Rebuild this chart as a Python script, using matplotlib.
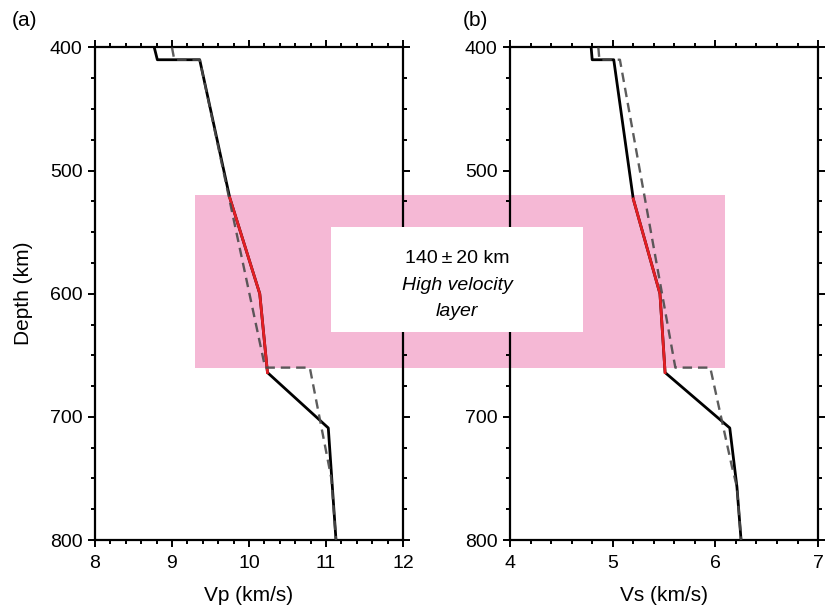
import matplotlib
matplotlib.use("Agg")
import matplotlib.pyplot as plt
from matplotlib.patches import Rectangle
from matplotlib.ticker import MultipleLocator, FuncFormatter

plt.rcParams["font.family"] = ["Liberation Sans", "DejaVu Sans"]
plt.rcParams["font.size"] = 14

# Vp profiles (km/s) against depth (km)
vp_model_depth = [400, 410, 410, 522, 600, 664, 709, 800]
vp_model = [8.77, 8.81, 9.36, 9.75, 10.14, 10.24, 11.03, 11.13]
vp_ref_depth = [400, 410, 410, 660, 660, 750, 800]
vp_ref = [9.0, 9.03, 9.36, 10.21, 10.79, 11.07, 11.13]

# Vs profiles (km/s) against depth (km)
vs_model_depth = [400, 410, 410, 523, 600, 664, 709, 757, 800]
vs_model = [4.79, 4.80, 5.01, 5.20, 5.46, 5.51, 6.14, 6.21, 6.25]
vs_ref_depth = [400, 410, 410, 660, 660, 740, 757, 800]
vs_ref = [4.86, 4.87, 5.07, 5.61, 5.95, 6.16, 6.21, 6.25]

# high velocity layer: indices of the red part of each model
layer_idx = slice(3, 6)
layer_top, layer_bot = 520, 660
box_lines = [("140\u2009\u00b1\u200920 km", "normal"),
             ("High velocity", "italic"),
             ("layer", "italic")]

fig = plt.figure(figsize=(8.28, 6.08), dpi=100)
ax1 = fig.add_axes([0.1147, 0.1118, 0.372, 0.8102])
ax2 = fig.add_axes([0.616, 0.1118, 0.372, 0.8102])


def style_axis(ax, xlim, xlabel):
    ax.set_facecolor("none")
    ax.set_xlim(*xlim)
    ax.set_ylim(800, 400)
    ax.xaxis.set_major_locator(MultipleLocator(1))
    ax.xaxis.set_minor_locator(MultipleLocator(0.2))
    ax.yaxis.set_major_locator(MultipleLocator(100))
    ax.yaxis.set_minor_locator(MultipleLocator(25))
    ax.tick_params(which="both", top=True, right=True, direction="out", width=1.4)
    ax.tick_params(which="major", length=5, pad=4)
    ax.tick_params(which="minor", length=3)
    ax.tick_params(axis="x", which="major", pad=6)
    for sp in ax.spines.values():
        sp.set_linewidth(1.6)
    ax.set_xlabel(xlabel, labelpad=10, fontsize=15)


style_axis(ax1, (8, 12), "Vp (km/s)")
style_axis(ax2, (4, 7), "Vs (km/s)")
ax1.set_ylabel("Depth (km)", labelpad=12, fontsize=15)
# the 600 label of panel (b) sits behind the white label box
ax2.yaxis.set_major_formatter(FuncFormatter(lambda v, p: "" if v == 600 else "%d" % v))

dash_kw = dict(color="#4a4a4a", lw=1.7, dashes=(4, 2.5), alpha=0.9)
for ax, md, mv, rd, rv in [(ax1, vp_model_depth, vp_model, vp_ref_depth, vp_ref),
                           (ax2, vs_model_depth, vs_model, vs_ref_depth, vs_ref)]:
    ax.plot(mv, md, color="black", lw=2.0, zorder=3)
    ax.plot(mv[layer_idx], md[layer_idx], color="#e31e24", lw=2.0, zorder=4)
    ax.plot(rv, rd, zorder=5, **dash_kw)

ax1.text(-0.27, 1.035, "(a)", transform=ax1.transAxes, fontsize=15, va="bottom")
ax2.text(-0.155, 1.035, "(b)", transform=ax2.transAxes, fontsize=15, va="bottom")

# pink band spanning both panels, placed from data coordinates
inv = fig.transFigure.inverted()
x0, y0 = inv.transform(ax1.transData.transform((9.30, layer_bot)))
x1, y1 = inv.transform(ax2.transData.transform((6.09, layer_top)))
fig.patches.append(Rectangle((x0, y0), x1 - x0, y1 - y0, transform=fig.transFigure,
                             facecolor="#f5b8d5", edgecolor="none", zorder=-1))

# white label box
bx0, by0 = inv.transform(ax1.transData.transform((11.07, 631)))
bx1, by1 = inv.transform(ax2.transData.transform((4.71, 546)))
fig.patches.append(Rectangle((bx0, by0), bx1 - bx0, by1 - by0, transform=fig.transFigure,
                             facecolor="white", edgecolor="none", zorder=5))
cx = (bx0 + bx1) / 2
for i, (txt, st) in enumerate(box_lines):
    fig.text(cx, 1 - (258 + 27 * i) / 608, txt, ha="center", va="center",
             fontsize=14, style=st, zorder=6)

fig.savefig("out.png", dpi=100)
